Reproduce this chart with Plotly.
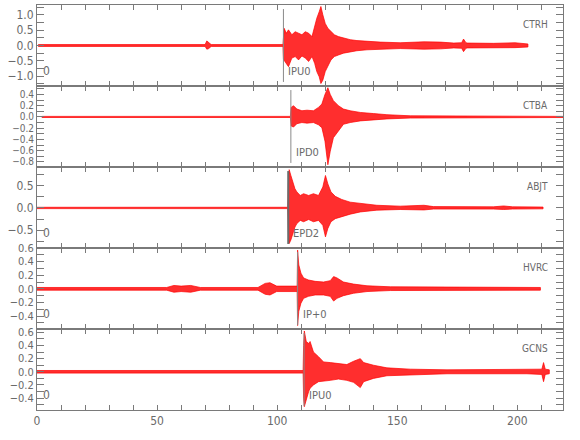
import plotly.graph_objects as go
from plotly.subplots import make_subplots

# ---------------- data ----------------
stations = ["CTRH", "CTBA", "ABJT", "HVRC", "GCNS"]
pick_labels = ["IPU0", "IPD0", "EPD2", "IP+0", "IPU0"]
pick_times = [102.6, 105.7, 104.6, 108.5, 111.2]
show_zero_label = [True, False, True, True, True]

# amplitude envelopes (time s, upper, lower) of each trace
ctrh_t = [0.5, 70.0, 70.7, 71.5, 72.5, 102.4, 102.6, 102.9, 103.8, 104.7, 106.1, 107.5, 108.9,
          110.3, 111.7, 113.1, 114.5, 115.6, 116.5, 117.5, 118.2, 119.0, 120.0, 121.1, 122.4,
          123.8, 125.5, 127.6, 130.4, 133.2, 137.4, 142.9, 151.2, 161.1, 168.0, 173.5, 176.8,
          177.6, 178.5, 179.0, 190.1, 199.0, 204.4]
ctrh_up = [0.03, 0.03, 0.15, 0.10, 0.03, 0.03, 0.55, 0.56, 0.40, 0.51, 0.35, 0.45, 0.40,
           0.35, 0.45, 0.40, 0.29, 0.67, 0.89, 1.10, 1.27, 1.00, 0.72, 0.56, 0.45,
           0.35, 0.29, 0.24, 0.19, 0.16, 0.13, 0.11, 0.09, 0.12, 0.11, 0.08, 0.09,
           0.21, 0.10, 0.08, 0.07, 0.09, 0.05]
ctrh_lo = [-0.03, -0.03, -0.12, -0.10, -0.03, -0.03, -0.45, -0.47, -0.58, -0.69, -0.41, -0.36, -0.47,
           -0.34, -0.41, -0.52, -0.36, -0.58, -0.85, -1.02, -1.24, -1.13, -0.85, -0.69, -0.47,
           -0.36, -0.31, -0.25, -0.20, -0.17, -0.14, -0.12, -0.10, -0.12, -0.11, -0.08, -0.09,
           -0.20, -0.10, -0.08, -0.07, -0.07, -0.05]

ctba_t = [2.0, 105.5, 105.8, 106.8, 108.2, 110.3, 112.4, 115.1, 117.2, 118.6, 119.9, 121.1,
          122.1, 123.4, 125.5, 127.6, 130.4, 134.6, 140.1, 145.7, 155.4, 219.0]
ctba_up = [0.01, 0.01, 0.17, 0.20, 0.14, 0.11, 0.12, 0.11, 0.17, 0.23, 0.40, 0.52,
           0.40, 0.29, 0.20, 0.14, 0.11, 0.08, 0.06, 0.04, 0.02, 0.01]
ctba_lo = [-0.01, -0.01, -0.16, -0.18, -0.12, -0.10, -0.11, -0.10, -0.14, -0.19, -0.43, -0.85,
           -0.61, -0.37, -0.25, -0.13, -0.10, -0.07, -0.05, -0.035, -0.02, -0.01]

abjt_t = [0.0, 104.4, 104.7, 105.0, 105.7, 106.5, 107.4, 108.2, 109.6, 111.0, 113.1, 115.1,
          117.2, 119.0, 120.1, 121.1, 122.4, 124.2, 126.9, 130.4, 134.6, 141.5, 151.2, 161.1,
          165.1, 190.0, 194.3, 198.0, 210.7]
abjt_up = [0.015, 0.015, 0.60, 0.86, 0.73, 0.58, 0.43, 0.36, 0.28, 0.32, 0.28, 0.32,
           0.28, 0.47, 0.73, 0.54, 0.36, 0.26, 0.19, 0.13, 0.10, 0.06, 0.04, 0.06,
           0.03, 0.025, 0.045, 0.025, 0.02]
abjt_lo = [-0.015, -0.015, -0.60, -0.80, -0.72, -0.61, -0.43, -0.35, -0.28, -0.31, -0.26, -0.31,
           -0.28, -0.39, -0.65, -0.46, -0.31, -0.24, -0.19, -0.14, -0.09, -0.05, -0.035, -0.045,
           -0.025, -0.025, -0.035, -0.025, -0.02]

hvrc_t = [0.0, 54.0, 57.0, 60.0, 64.0, 68.0, 92.0, 95.0, 97.0, 99.8, 108.3, 108.5, 109.0,
          109.9, 111.0, 113.0, 115.8, 119.3, 122.1, 123.5, 124.9, 127.6, 131.8, 137.4, 147.1, 209.6]
hvrc_up = [0.02, 0.02, 0.05, 0.04, 0.05, 0.02, 0.02, 0.08, 0.09, 0.04, 0.04, 0.57, 0.35,
           0.23, 0.16, 0.13, 0.11, 0.10, 0.12, 0.18, 0.16, 0.10, 0.07, 0.045, 0.03, 0.02]
hvrc_lo = [-0.02, -0.02, -0.05, -0.04, -0.05, -0.02, -0.02, -0.08, -0.09, -0.04, -0.04, -0.54, -0.33,
           -0.21, -0.14, -0.11, -0.09, -0.09, -0.11, -0.18, -0.14, -0.10, -0.065, -0.04, -0.025, -0.02]

gcns_t = [0.0, 110.8, 111.0, 111.3, 112.1, 113.1, 113.7, 115.1, 117.2, 119.3, 122.1, 125.5,
          129.0, 131.8, 134.6, 136.0, 140.1, 145.7, 155.4, 170.7, 204.0, 210.2, 210.9, 211.6, 213.3]
gcns_up = [0.02, 0.02, 0.40, 0.62, 0.46, 0.43, 0.46, 0.30, 0.23, 0.15, 0.14, 0.13,
           0.11, 0.16, 0.20, 0.14, 0.10, 0.06, 0.04, 0.03, 0.03, 0.04, 0.14, 0.04, 0.03]
gcns_lo = [-0.02, -0.02, -0.40, -0.53, -0.41, -0.30, -0.25, -0.20, -0.15, -0.14, -0.13, -0.11,
           -0.13, -0.16, -0.24, -0.15, -0.10, -0.06, -0.045, -0.03, -0.03, -0.04, -0.15, -0.04, -0.03]

traces = [(ctrh_t, ctrh_up, ctrh_lo), (ctba_t, ctba_up, ctba_lo), (abjt_t, abjt_up, abjt_lo),
          (hvrc_t, hvrc_up, hvrc_lo), (gcns_t, gcns_up, gcns_lo)]

x_tick_vals = [0, 50, 100, 150, 200]

# ---------------- styling ----------------
y_ranges = [[-1.32, 1.32], [-0.89, 0.55], [-0.90, 0.92], [-0.59, 0.60], [-0.58, 0.65]]
y_dticks = [0.5, 0.2, 0.5, 0.2, 0.2]
y_minor = [0.25, 0.1, 0.25, 0.1, 0.1]
y_font = [12, 10, 12, 11, 11]
GRAY = "#7a7a7a"
TXT = "#6a6a6a"
FONT = "Liberation Sans Narrow, DejaVu Sans Condensed, Arial Narrow, Liberation Sans, sans-serif"

fig = make_subplots(rows=5, cols=1, shared_xaxes=True, vertical_spacing=0)

for i, (t, up, lo) in enumerate(traces):
    xs = list(t) + list(reversed(t))
    ys = list(up) + list(reversed(lo))
    fig.add_trace(go.Scatter(x=xs, y=ys, mode="lines", fill="toself",
                             fillcolor="rgba(255,0,0,0.82)",
                             line=dict(color="#ff0000", width=0.7),
                             hoverinfo="skip", showlegend=False), row=i + 1, col=1)

    r = i + 1
    fig.update_yaxes(row=r, col=1, range=y_ranges[i], dtick=y_dticks[i], tick0=0,
                     tickformat=".1f", showgrid=False, zeroline=False, automargin=False,
                     showline=True, linecolor=GRAY, linewidth=1, mirror="ticks",
                     ticks="inside", ticklen=7, tickcolor=GRAY, tickwidth=1,
                     minor=dict(dtick=y_minor[i], tick0=0, ticks="inside", ticklen=7,
                                tickcolor=GRAY, showgrid=False),
                     tickfont=dict(family=FONT, size=y_font[i], color=TXT))
    fig.update_xaxes(row=r, col=1, range=[0, 219], tickvals=x_tick_vals, automargin=False,
                     showgrid=False, zeroline=False, showline=True, linecolor=GRAY,
                     linewidth=1, mirror="ticks", ticks="inside", ticklen=5,
                     tickcolor=GRAY, tickwidth=1,
                     minor=dict(dtick=10, tick0=0, ticks="inside", ticklen=5,
                                tickcolor=GRAY, showgrid=False),
                     showticklabels=(r == 5),
                     tickfont=dict(family=FONT, size=12, color=TXT))

    xref = "x" if r == 1 else f"x{r}"
    yref = "y" if r == 1 else f"y{r}"
    lw = 2 if i == 2 else 1
    lc = "#6a6a6a" if i == 2 else "#8a8a8a"
    fig.add_shape(type="line", xref=xref, yref=f"{yref} domain",
                  x0=pick_times[i], x1=pick_times[i], y0=0.05, y1=0.95,
                  line=dict(color=lc, width=lw))
    fig.add_annotation(xref=xref, yref=f"{yref} domain", x=pick_times[i], y=0.18,
                       text=pick_labels[i], showarrow=False, xanchor="left",
                       yanchor="middle", xshift=3,
                       font=dict(family=FONT, size=11, color=TXT))
    fig.add_annotation(xref=f"{xref} domain", yref=f"{yref} domain", x=1, y=0.755,
                       text=stations[i], showarrow=False, xanchor="right",
                       yanchor="middle", xshift=-13,
                       font=dict(family=FONT, size=10, color=TXT))
    if show_zero_label[i]:
        fig.add_annotation(xref=f"{xref} domain", yref=f"{yref} domain", x=0, y=0.183,
                           text="0", showarrow=False, xanchor="left",
                           yanchor="middle", xshift=4,
                           font=dict(family=FONT, size=12, color=TXT))

fig.update_layout(width=580, height=440,
                  margin=dict(l=37, r=17, t=5, b=30),
                  paper_bgcolor="white", plot_bgcolor="white")

fig.write_html("out.html", config={"displayModeBar": False},
               post_script="document.body.style.margin='0px';")
